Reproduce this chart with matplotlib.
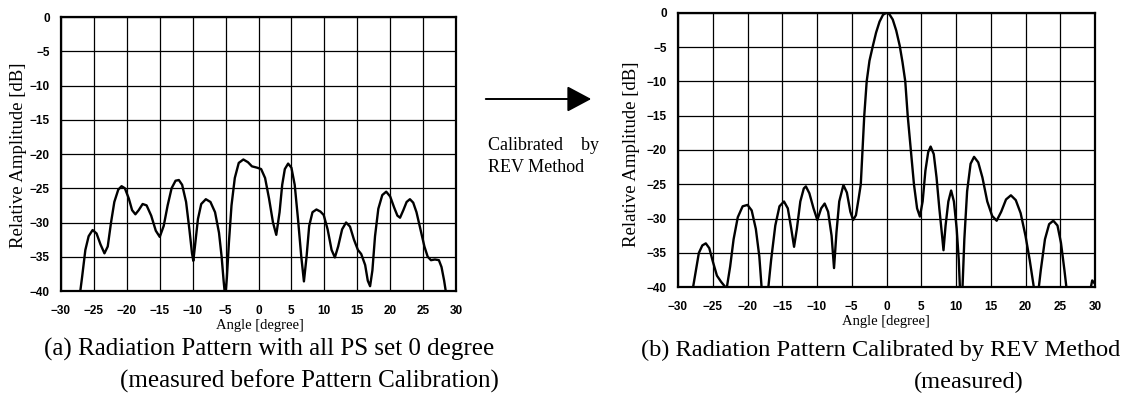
import matplotlib
matplotlib.use("Agg")
import matplotlib.pyplot as plt
import numpy as np

# ---- data ----
angle_a = [-27.2, -26.8, -26.3, -25.8, -25.2, -24.6, -24.0, -23.4, -22.9, -22.4, -21.9, -21.3,
           -20.8, -20.3, -19.7, -19.2, -18.7, -18.2, -17.6, -17.0, -16.3, -15.6, -15.0, -14.4,
           -13.8, -13.2, -12.6, -12.1, -11.6, -11.0, -10.5, -10.1, -9.9, -9.6, -9.2, -8.7, -8.0,
           -7.3, -6.6, -6.0, -5.6, -5.3, -5.05, -4.8, -4.5, -4.1, -3.6, -3.0, -2.3, -1.6, -1.0,
           -0.2, 0.4, 1.0, 1.6, 2.2, 2.7, 3.2, 3.6, 4.0, 4.5, 5.0, 5.5, 6.0, 6.5, 6.9, 7.3, 7.7,
           8.2, 8.8, 9.4, 9.9, 10.5, 11.1, 11.6, 12.1, 12.7, 13.3, 13.9, 14.5, 15.1, 15.6, 16.2,
           16.6, 16.95, 17.3, 17.7, 18.2, 18.8, 19.4, 20.0, 20.6, 21.1, 21.5, 22.0, 22.5, 23.0,
           23.5, 24.0, 24.6, 25.2, 25.7, 26.2, 26.8, 27.4, 27.8, 28.2, 28.6]
level_a = [-41, -38, -34, -32, -31.1, -31.6, -33.2, -34.5, -33.5, -30, -27, -25.2,
           -24.7, -25.0, -26.5, -28.2, -28.8, -28.2, -27.3, -27.5, -29, -31.2, -32.1, -30.5,
           -27.5, -25, -23.9, -23.8, -24.5, -27, -31, -34.5, -35.6, -33, -29.5, -27.3, -26.6,
           -27.0, -28.5, -31.5, -35, -38.5, -41, -38, -33, -27.5, -23.5, -21.3, -20.8, -21.2, -21.8,
           -22.0, -22.2, -23.5, -26.5, -30, -31.8, -28.5, -24.5, -22.2, -21.4, -22.0, -24.5, -29.5,
           -35, -38.6, -35, -30.5,
           -28.5, -28.1, -28.4, -28.9, -31, -34, -35.1, -33.5, -31, -30.0, -30.6, -32.5, -34, -34.6,
           -36.2, -38.5, -39.3, -37, -32, -28, -26, -25.5, -26.2, -27.8, -29, -29.3, -28.2, -27.0,
           -26.6, -27.1, -28.5, -31, -33.5, -35, -35.5, -35.4, -35.5, -36.5, -38.5, -41]

angle_b = [-28.0, -27.5, -27.0, -26.5, -26.0, -25.5, -25.0, -24.4, -23.8, -23.0, -22.5, -22.0,
           -21.4, -20.7, -20.0, -19.4, -18.8, -18.3, -17.9, -17.1, -16.6, -16.0, -15.4, -14.75,
           -14.2, -13.7, -13.3, -12.9, -12.4, -11.9, -11.6, -11.1, -10.5, -9.95, -9.4, -8.9, -8.4,
           -7.9, -7.55, -7.2, -6.8, -6.2, -5.7, -5.2, -4.8, -4.4, -4.0, -3.7, -3.45, -3.2, -2.85,
           -2.45, -2.0, -1.5, -1.0, -0.5, 0.0, 0.4, 0.9, 1.4, 1.9, 2.3, 2.7, 3.05, 3.5, 3.95, 4.4,
           4.8, 5.2, 5.6, 6.0, 6.35, 6.8, 7.2, 7.6, 8.0, 8.2, 8.5, 8.9, 9.3, 9.7, 10.1, 10.4, 10.6,
           10.9, 11.2, 11.6, 12.1, 12.6, 13.2, 13.8, 14.5, 15.2, 15.85, 16.5, 17.2, 17.9, 18.6,
           19.3, 20.0, 20.6, 21.2, 21.5, 21.8, 22.2, 22.8, 23.4, 24.0, 24.6, 25.1, 25.6, 26.0,
           29.2, 29.6, 30.0]
level_b = [-41, -38, -35, -33.9, -33.6, -34.3, -36.2, -38.3, -39.2, -40.2, -37, -33,
           -29.8, -28.2, -28.0, -28.8, -31.5, -35.5, -41, -41, -36, -31, -28.2, -27.5,
           -28.5, -31.5, -34.1, -31.5, -27.5, -25.6, -25.3, -26.3, -28.5, -30.2, -28.5, -27.8, -29,
           -32.5, -37.2, -32, -27.5, -25.1, -26.2, -29, -30.2, -29.5, -27, -25, -20, -15, -10,
           -7, -5, -2.9, -1.3, -0.3, 0.0, -0.2, -1.0, -2.6, -4.8, -7.2, -10, -15, -20, -25, -28.5,
           -29.7, -27.5, -23, -20.3, -19.5, -20.6, -24, -28.5, -32.5, -34.6, -31, -27.5, -25.9,
           -27.5, -31.5, -36, -41,
           -41, -33, -26, -22, -21.0, -21.8, -24, -27.5, -29.6, -30.3, -29, -27.2, -26.6, -27.3,
           -29.2, -32.5, -36, -40, -41, -41, -37.5, -33, -30.8, -30.3, -31, -33.5, -37.5, -41,
           -41, -39, -39.5]

x_ticks = [-30, -25, -20, -15, -10, -5, 0, 5, 10, 15, 20, 25, 30]
y_ticks = [0, -5, -10, -15, -20, -25, -30, -35, -40]

caption_a = "(a) Radiation Pattern with all PS set 0 degree"
caption_a2 = "(measured before Pattern Calibration)"
caption_b = "(b) Radiation Pattern Calibrated by REV Method"
caption_b2 = "(measured)"

W, H = 1136, 394
fig = plt.figure(figsize=(W / 100, H / 100), dpi=100)
fig.patch.set_facecolor("white")

serif = "Liberation Serif"
sans = "Liberation Sans"


def make_axes(rect, xs, ys):
    ax = fig.add_axes(rect)
    ax.plot(xs, ys, color="black", lw=1.7, solid_joinstyle="round")
    ax.set_xlim(-30, 30)
    ax.set_ylim(-40, 0)
    ax.set_xticks(x_ticks)
    ax.set_yticks(y_ticks)
    ax.grid(True, color="black", lw=0.9)
    ax.set_axisbelow(True)
    ax.tick_params(axis="x", length=0, pad=10, labelsize=8.5)
    ax.tick_params(axis="y", length=0, pad=8, labelsize=8.5)
    for lab in ax.get_xticklabels() + ax.get_yticklabels():
        lab.set_fontfamily(sans)
        lab.set_fontweight("bold")
    for s in ax.spines.values():
        s.set_linewidth(1.6)
        s.set_color("black")
    return ax


def px_rect(x0, y0, x1, y1):
    return [x0 / W, 1 - y1 / H, (x1 - x0) / W, (y1 - y0) / H]


ax1 = make_axes(px_rect(61, 17, 456, 291), angle_a, level_a)
ax2 = make_axes(px_rect(678, 12.7, 1095, 287.3), angle_b, level_b)

# axis labels
fig.text(18.5 / W, 1 - 155 / H, "Relative Amplitude [dB]", rotation=90, ha="center",
         va="center", family=serif, fontsize=13.5)
fig.text(631 / W, 1 - 154 / H, "Relative Amplitude [dB]", rotation=90, ha="center",
         va="center", family=serif, fontsize=13.5)
fig.text(260 / W, 1 - 325 / H, "Angle [degree]", ha="center", va="center",
         family=serif, fontsize=10.5)
fig.text(886 / W, 1 - 321 / H, "Angle [degree]", ha="center", va="center",
         family=serif, fontsize=10.5)

# captions
fig.text(44 / W, 1 - 356 / H, caption_a, ha="left", va="baseline", family=serif, fontsize=18)
fig.text(499 / W, 1 - 388 / H, caption_a2, ha="right", va="baseline", family=serif, fontsize=18)
fig.text(641 / W, 1 - 356 / H, caption_b, ha="left", va="baseline", family=serif, fontsize=17.6)
fig.text(969 / W, 1 - 388 / H, caption_b2, ha="center", va="baseline", family=serif, fontsize=17.6)

# arrow and its text
fig.patches.append(matplotlib.patches.FancyArrowPatch(
    (483 / W, 1 - 99 / H), (594 / W, 1 - 99 / H), transform=fig.transFigure,
    arrowstyle="-|>,head_length=1.5,head_width=0.8", mutation_scale=10,
    color="black", lw=1.4))
fig.text(488 / W, 1 - 145 / H, "Calibrated    by", ha="left", va="center",
         family=serif, fontsize=13)
fig.text(488 / W, 1 - 167 / H, "REV Method", ha="left", va="center",
         family=serif, fontsize=13)

fig.savefig("out.png", dpi=100, facecolor="white")
